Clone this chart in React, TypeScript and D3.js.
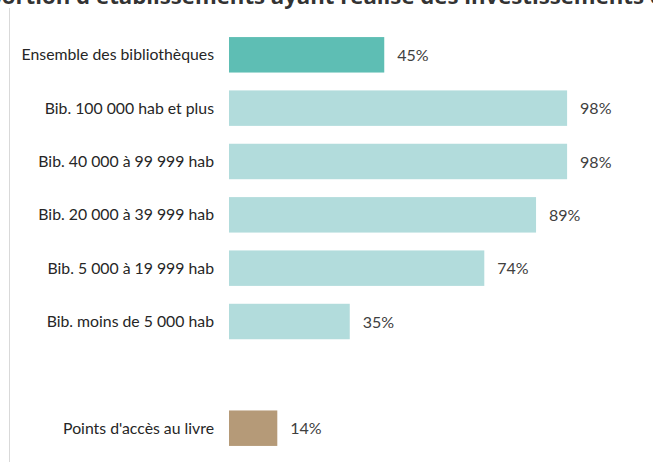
import React from "react";
import * as d3 from "d3";

const categories = [
  "Ensemble des bibliothèques",
  "Bib. 100 000 hab et plus",
  "Bib. 40 000 à 99 999 hab",
  "Bib. 20 000 à 39 999 hab",
  "Bib. 5 000 à 19 999 hab",
  "Bib. moins de 5 000 hab",
  "",
  "Points d'accès au livre",
];
const values: (number | null)[] = [45, 98, 98, 89, 74, 35, null, 14];
const kinds = ["total", "bib", "bib", "bib", "bib", "bib", "none", "pal"];
const title = "Proportion d'établissements ayant réalisé des investissements en 2019";

const colors: Record<string, string> = {
  total: "#5ebeb4",
  bib: "#b2dcdc",
  pal: "#b59a78",
};

export default function App() {
  const W = 653, H = 464;
  const x = d3.scaleLinear().domain([0, 100]).range([229, 229 + 345]);
  const y = d3.scaleBand<number>().domain(d3.range(categories.length)).range([28, 455]).paddingInner(0.335).paddingOuter(0.17);
  return (
    <svg width={W} height={H} style={{ position: "absolute", left: 0, top: 0, fontFamily: "Lato, 'Open Sans', sans-serif" }}>
      <rect width={W} height={H} fill="#fff" />
      <text x={-50} y={4} fontSize={22.2} fontWeight="bold" fill="#333" fontFamily="'Open Sans', sans-serif">{title}</text>
      <line x1={9.5} x2={9.5} y1={8} y2={462} stroke="#d9d9d9" strokeWidth={1} />
      {categories.map((c, i) => {
        const v = values[i];
        const yy = y(i)!;
        const bh = y.bandwidth();
        return (
          <g key={i}>
            {c && (
              <text x={214} y={yy + bh / 2} dy="0.35em" textAnchor="end" fontSize={15.8} fill="#262626">{c}</text>
            )}
            {v != null && (
              <>
                <rect x={x(0)} y={yy} width={x(v) - x(0)} height={bh} fill={colors[kinds[i]]} />
                <text x={x(v) + 13} y={yy + bh / 2} dy="0.38em" fontSize={16} fill="#404040">{v}%</text>
              </>
            )}
          </g>
        );
      })}
    </svg>
  );
}
